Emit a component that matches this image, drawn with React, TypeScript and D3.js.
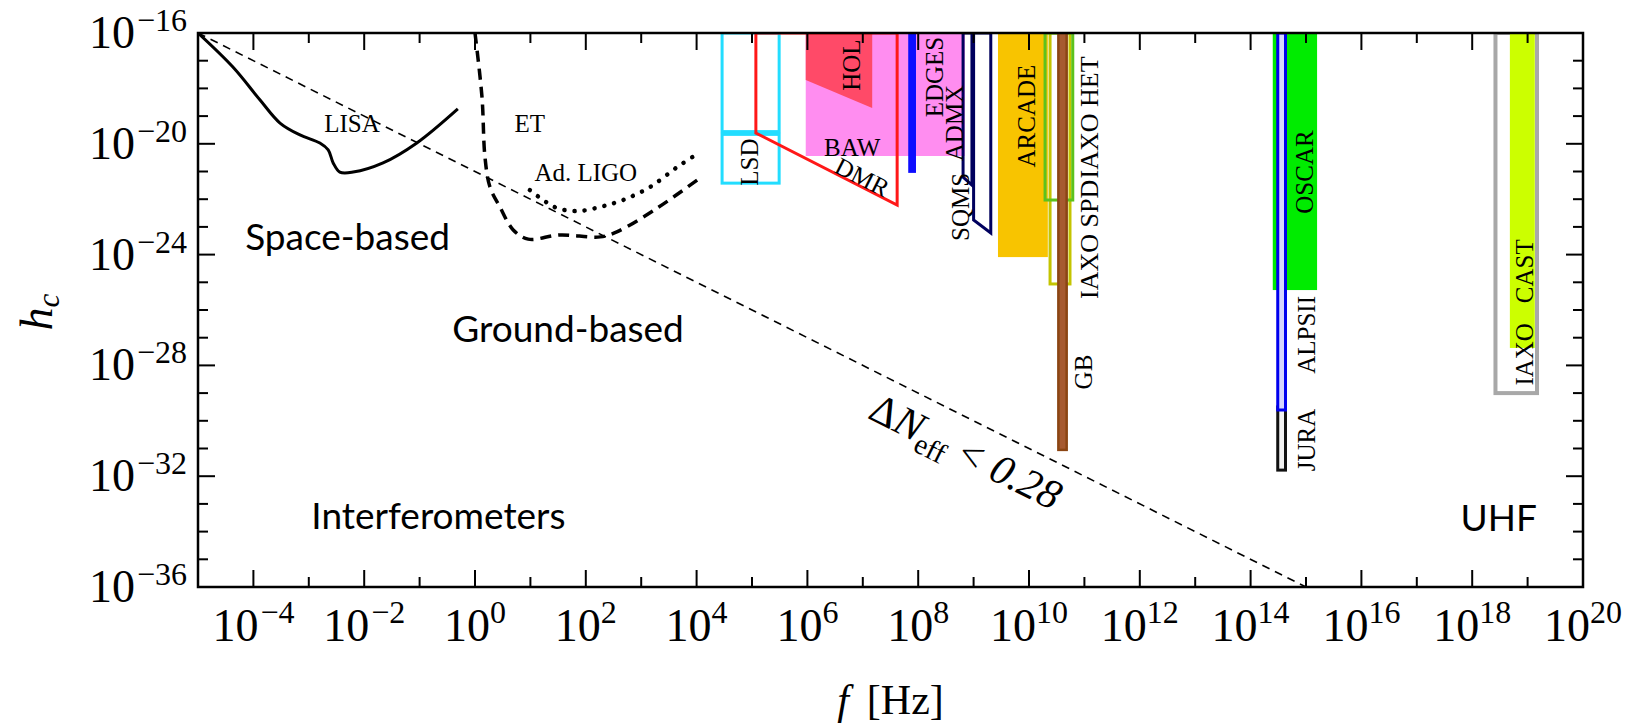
import React from 'react';
import * as d3 from 'd3';

const W = 1637;
const H = 728;
const PLOT = { left: 198, right: 1583, top: 33, bottom: 587 };

// axis ticks (log10 exponents)
const xMajorExps = [-4, -2, 0, 2, 4, 6, 8, 10, 12, 14, 16, 18, 20];
const xMinorExps = [-5, -3, -1, 1, 3, 5, 7, 9, 11, 13, 15, 17, 19];
const yMajorExps = [-16, -20, -24, -28, -32, -36];
const yMinorExps = [-17, -18, -19, -21, -22, -23, -25, -26, -27, -29, -30, -31, -33, -34, -35];

// sensitivity curves: [log10 f, log10 h_c]
const lisaCurve: [number, number][] = [
  [-5.0, -16.0], [-4.37, -17.23], [-3.88, -18.42], [-3.52, -19.25], [-3.16, -19.68],
  [-2.8, -19.97], [-2.65, -20.22], [-2.56, -20.69], [-2.44, -21.02], [-2.2, -21.02],
  [-1.66, -20.69], [-1.05, -19.97], [-0.31, -18.74],
];
const etCurve: [number, number][] = [
  [0.0, -16.0], [0.126, -18.31], [0.18, -20.48], [0.27, -21.56], [0.45, -22.28],
  [0.69, -23.11], [0.96, -23.44], [1.53, -23.29], [2.26, -23.36], [2.56, -23.18],
  [3.29, -22.32], [4.01, -21.31],
];
const ligoCurve: [number, number][] = [
  [0.99, -21.67], [1.23, -22.03], [1.48, -22.32], [1.84, -22.43], [2.26, -22.28],
  [2.67, -22.03], [3.16, -21.56], [3.65, -20.84], [4.01, -20.37],
];
const nEffBound: [number, number][] = [[-5, -16], [15, -36]];

// experiment bands: log10 f range, log10 h range
const fillBands = [
  { id: 'BAW', f: [5.97, 8.84], h: [-20.44, -16] },
  { id: 'EDGES', f: [7.82, 7.96], h: [-21.05, -16] },
  { id: 'ARCADE', f: [9.44, 10.34], h: [-24.09, -16] },
  { id: 'OSCAR', f: [14.4, 15.2], h: [-25.28, -16] },
];
const outlineBands = [
  { id: 'LSD1', f: [4.46, 5.49], h: [-19.56, -16] },
  { id: 'LSD2', f: [4.46, 5.49], h: [-21.42, -19.66] },
  { id: 'IAXO_HET', f: [10.38, 10.74], h: [-25.06, -16] },
  { id: 'IAXO_SPD', f: [10.29, 10.79], h: [-22.03, -16] },
  { id: 'GB', f: [10.53, 10.68], h: [-31.05, -16] },
  { id: 'JURA', f: [14.49, 14.63], h: [-31.78, -29.5] },
  { id: 'ALPSII', f: [14.49, 14.63], h: [-29.61, -16] },
  { id: 'IAXO_UHF', f: [18.42, 19.17], h: [-29.0, -16] },
];
const casts = [{ id: 'CAST', f: [18.68, 19.13], h: [-27.37, -16] }];

const holPoly: [number, number][] = [[5.97, -16], [7.17, -16], [7.17, -18.71], [5.97, -17.7]];
const dmrPoly: [number, number][] = [[5.07, -16], [5.07, -19.61], [7.62, -22.21], [7.62, -16]];
const admxPoly: [number, number][] = [[8.81, -16], [8.81, -21.2], [8.97, -21.49], [8.97, -16]];
const sqmsPoly: [number, number][] = [[9.0, -16], [9.0, -22.75], [9.31, -23.22], [9.31, -16]];

// labels: text, log f, log h
const vLabels = [
  { t: 'LSD', f: 4.96, h: -20.66, s: 25 },
  { t: 'HOL', f: 6.79, h: -17.16, s: 25 },
  { t: 'EDGES', f: 8.29, h: -17.59, s: 25 },
  { t: 'ADMX', f: 8.65, h: -19.25, s: 25 },
  { t: 'SQMS', f: 8.76, h: -22.28, s: 25 },
  { t: 'ARCADE', f: 9.96, h: -19.0, s: 25 },
  { t: 'IAXO HET', f: 11.08, h: -19.05, s: 26 },
  { t: 'IAXO SPD', f: 11.08, h: -23.45, s: 26 },
  { t: 'GB', f: 10.99, h: -28.24, s: 25 },
  { t: 'OSCAR', f: 14.98, h: -21.02, s: 25 },
  { t: 'ALPSII', f: 15.0, h: -26.9, s: 25 },
  { t: 'JURA', f: 15.0, h: -30.69, s: 25 },
  { t: 'CAST', f: 18.95, h: -24.6, s: 25 },
  { t: 'IAXO', f: 18.95, h: -27.6, s: 25 },
];
const hLabels = [
  { t: 'LISA', f: -2.22, h: -19.25 },
  { t: 'ET', f: 0.99, h: -19.25 },
  { t: 'Ad. LIGO', f: 2.0, h: -21.02 },
  { t: 'BAW', f: 6.81, h: -20.12 },
];
const regionLabels = [
  { t: 'Space-based', f: -2.3, h: -23.83 },
  { t: 'Ground-based', f: 1.68, h: -27.16 },
  { t: 'Interferometers', f: -0.66, h: -33.9 },
  { t: 'UHF', f: 18.48, h: -33.98 },
];
const nEffLabelPos = { f: 8.86, h: -31.1 };

const SERIF = "'Liberation Serif', 'Times New Roman', serif";
const SANS = "Lato, 'Open Sans', sans-serif";

const bandStyle: Record<string, any> = {
  BAW: { fill: '#ff8df0' },
  EDGES: { fill: '#0d0dff' },
  ARCADE: { fill: '#f8c400' },
  OSCAR: { fill: '#00ec00' },
  LSD1: { fill: 'none', stroke: '#22ddff', sw: 3 },
  LSD2: { fill: 'none', stroke: '#22ddff', sw: 3 },
  IAXO_HET: { fill: 'none', stroke: '#c4c400', sw: 3 },
  IAXO_SPD: { fill: 'none', stroke: '#5cc21e', sw: 3 },
  GB: { fill: '#a65a30', stroke: '#8b4513', sw: 2.5 },
  JURA: { fill: '#f2f2f2', stroke: '#111', sw: 3 },
  ALPSII: { fill: '#d6d6ff', stroke: '#0000ee', sw: 3 },
  IAXO_UHF: { fill: 'none', stroke: '#a8a8a8', sw: 4 },
  CAST: { fill: '#ccff00' },
};

export default function App() {
  const x = d3.scaleLog().domain([1e-5, 1e20]).range([PLOT.left, PLOT.right]);
  const y = d3.scaleLog().domain([1e-36, 1e-16]).range([PLOT.bottom, PLOT.top]);
  const X = (e: number) => x(Math.pow(10, e));
  const Y = (e: number) => y(Math.pow(10, e));

  const smooth = d3
    .line<[number, number]>()
    .x((d) => X(d[0]))
    .y((d) => Y(d[1]))
    .curve(d3.curveCatmullRom.alpha(0.5));
  const straight = d3
    .line<[number, number]>()
    .x((d) => X(d[0]))
    .y((d) => Y(d[1]));
  const poly = (pts: [number, number][]) => straight(pts) + 'Z';

  const rect = (b: any, key: string) => {
    const s = bandStyle[b.id];
    const x0 = X(b.f[0]);
    const x1 = X(b.f[1]);
    const y0 = Y(b.h[1]);
    const y1 = Y(b.h[0]);
    return (
      <rect
        key={key}
        x={x0}
        y={y0}
        width={x1 - x0}
        height={y1 - y0}
        fill={s.fill}
        stroke={s.stroke || 'none'}
        strokeWidth={s.sw || 0}
      />
    );
  };

  const majLen = 17;
  const minLen = 10;

  // Delta N_eff label placed along the bound line
  const nEffAngle = (Math.atan2(Y(-36) - Y(-16), X(15) - X(-5)) * 180) / Math.PI;
  const nEffX = X(nEffLabelPos.f);
  const nEffY = Y(nEffLabelPos.h);

  return (
    <svg
      width={W}
      height={H}
      style={{ position: 'absolute', left: 0, top: 0, background: '#fff' }}
      xmlns="http://www.w3.org/2000/svg"
    >
      <rect x={0} y={0} width={W} height={H} fill="#fff" />
      <defs>
        <clipPath id="plotclip">
          <rect x={PLOT.left} y={PLOT.top} width={PLOT.right - PLOT.left} height={PLOT.bottom - PLOT.top} />
        </clipPath>
      </defs>

      <g clipPath="url(#plotclip)">
        {rect(fillBands[0], 'baw')}
        <path d={poly(holPoly)} fill="#ff4a68" />
        {rect(outlineBands[0], 'lsd1')}
        {rect(outlineBands[1], 'lsd2')}
        <path d={poly(dmrPoly)} fill="none" stroke="#ff1818" strokeWidth={3} strokeLinejoin="miter" />
        {rect(fillBands[1], 'edges')}
        <path d={poly(admxPoly)} fill="none" stroke="#00005e" strokeWidth={3} />
        <path d={poly(sqmsPoly)} fill="none" stroke="#00005e" strokeWidth={3} />
        {rect(fillBands[2], 'arcade')}
        {rect(outlineBands[2], 'het')}
        {rect(outlineBands[3], 'spd')}
        {rect(outlineBands[4], 'gb')}
        {rect(fillBands[3], 'oscar')}
        {rect(outlineBands[5], 'jura')}
        {rect(outlineBands[6], 'alps')}
        {rect(outlineBands[7], 'iaxo')}
        {rect(casts[0], 'cast')}

        <path d={smooth(lisaCurve) || ''} fill="none" stroke="#000" strokeWidth={3} />
        <path d={smooth(etCurve) || ''} fill="none" stroke="#000" strokeWidth={3.5} strokeDasharray="11 7" />
        <path
          d={smooth(ligoCurve) || ''}
          fill="none"
          stroke="#000"
          strokeWidth={4.5}
          strokeLinecap="round"
          strokeDasharray="0.1 10"
        />
        <path d={straight(nEffBound) || ''} fill="none" stroke="#000" strokeWidth={1.6} strokeDasharray="8 6" />
      </g>

      {/* frame */}
      <rect
        x={PLOT.left}
        y={PLOT.top}
        width={PLOT.right - PLOT.left}
        height={PLOT.bottom - PLOT.top}
        fill="none"
        stroke="#000"
        strokeWidth={2.5}
      />
      {/* x ticks */}
      {xMajorExps.map((e) => (
        <g key={'xM' + e}>
          <line x1={X(e)} x2={X(e)} y1={PLOT.bottom} y2={PLOT.bottom - majLen} stroke="#000" strokeWidth={2} />
          <line x1={X(e)} x2={X(e)} y1={PLOT.top} y2={PLOT.top + majLen} stroke="#000" strokeWidth={2} />
        </g>
      ))}
      {xMinorExps.map((e) => (
        <g key={'xm' + e}>
          <line x1={X(e)} x2={X(e)} y1={PLOT.bottom} y2={PLOT.bottom - minLen} stroke="#000" strokeWidth={2} />
          <line x1={X(e)} x2={X(e)} y1={PLOT.top} y2={PLOT.top + minLen} stroke="#000" strokeWidth={2} />
        </g>
      ))}
      {yMajorExps.map((e) => (
        <g key={'yM' + e}>
          <line x1={PLOT.left} x2={PLOT.left + majLen} y1={Y(e)} y2={Y(e)} stroke="#000" strokeWidth={2} />
          <line x1={PLOT.right} x2={PLOT.right - majLen} y1={Y(e)} y2={Y(e)} stroke="#000" strokeWidth={2} />
        </g>
      ))}
      {yMinorExps.map((e) => (
        <g key={'ym' + e}>
          <line x1={PLOT.left} x2={PLOT.left + minLen} y1={Y(e)} y2={Y(e)} stroke="#000" strokeWidth={2} />
          <line x1={PLOT.right} x2={PLOT.right - minLen} y1={Y(e)} y2={Y(e)} stroke="#000" strokeWidth={2} />
        </g>
      ))}

      {/* tick labels */}
      <g fontFamily={SERIF} fill="#000">
        {xMajorExps.map((e) => (
          <text key={'xl' + e} x={X(e)} y={641} textAnchor="middle">
            <tspan fontSize={46}>10</tspan>
            <tspan fontSize={32} dy={-18} dx={e < 0 ? 2 : 0}>
              {e < 0 ? '\u2212' + Math.abs(e) : String(e)}
            </tspan>
          </text>
        ))}
        {yMajorExps.map((e) => (
          <text key={'yl' + e} x={187} y={Y(e) + 15} textAnchor="end">
            <tspan fontSize={46}>10</tspan>
            <tspan fontSize={32} dy={-17} dx={2}>
              {'\u2212' + Math.abs(e)}
            </tspan>
          </text>
        ))}
      </g>

      {/* axis titles */}
      <text x={(PLOT.left + PLOT.right) / 2} y={714} textAnchor="middle" fontFamily={SERIF} fontSize={42}>
        <tspan fontStyle="italic">f</tspan>
        <tspan dx={18}>[Hz]</tspan>
      </text>
      <text transform="translate(52,312) rotate(-90)" textAnchor="middle" fontFamily={SERIF} fontSize={46}>
        <tspan fontStyle="italic">h</tspan>
        <tspan fontStyle="italic" fontSize={31} dy={7}>
          c
        </tspan>
      </text>

      {/* experiment labels */}
      <g fontFamily={SERIF} fill="#000">
        {vLabels.map((l) => (
          <text
            key={l.t + l.f}
            transform={`translate(${X(l.f)},${Y(l.h)}) rotate(-90)`}
            textAnchor="middle"
            dy="0.34em"
            fontSize={l.s}
          >
            {l.t}
          </text>
        ))}
        {hLabels.map((l) => (
          <text key={l.t} x={X(l.f)} y={Y(l.h)} textAnchor="middle" dy="0.34em" fontSize={25}>
            {l.t}
          </text>
        ))}
        <text
          transform={`translate(${X(6.99)},${Y(-21.2)}) rotate(27)`}
          textAnchor="middle"
          dy="0.34em"
          fontSize={25}
        >
          DMR
        </text>
      </g>

      {/* Delta N_eff label */}
      <text
        transform={`translate(${nEffX},${nEffY}) rotate(${nEffAngle})`}
        textAnchor="middle"
        dy="0.34em"
        fontFamily={SERIF}
        fontSize={42}
      >
        <tspan>Δ</tspan>
        <tspan fontStyle="italic">N</tspan>
        <tspan fontSize={29} dy={9}>
          eff
        </tspan>
        <tspan dy={-9} dx={12}>
          {'<'}
        </tspan>
        <tspan fontStyle="italic" dx={12}>
          0.28
        </tspan>
      </text>

      {/* region labels */}
      <g fontFamily={SANS} fontSize={37} fill="#000">
        {regionLabels.map((l) => (
          <text key={l.t} x={X(l.f)} y={Y(l.h)} textAnchor="middle">
            {l.t}
          </text>
        ))}
      </g>
    </svg>
  );
}
